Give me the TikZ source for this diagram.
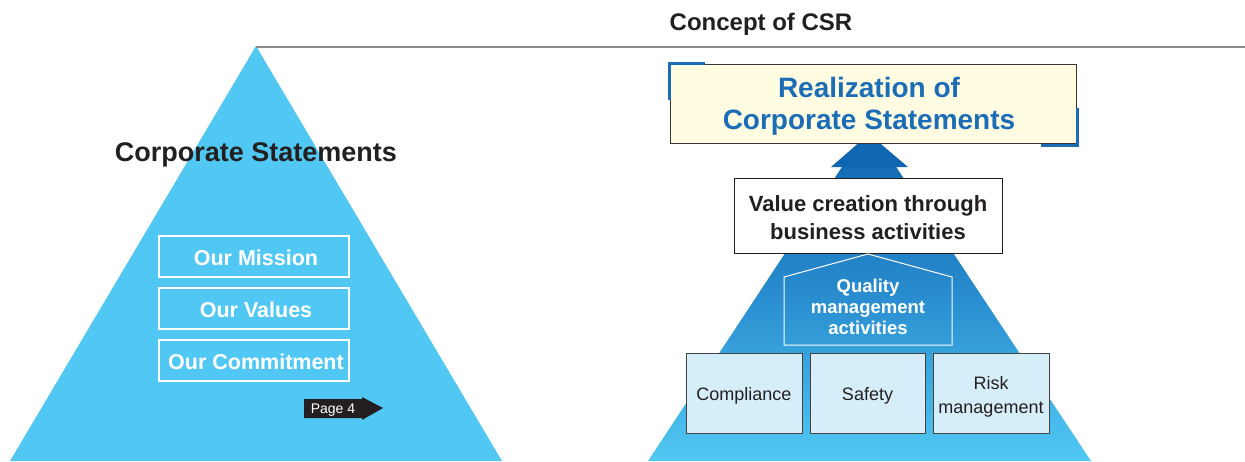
\documentclass[tikz,border=0pt]{standalone}
\usepackage{fontspec}
\setmainfont{Liberation Sans}
\usetikzlibrary{shapes.geometric}
\definecolor{cyanpyr}{HTML}{51C8F3}
\definecolor{darkpyr}{HTML}{0D62AD}
\definecolor{arrowblue}{HTML}{0F67B1}
\definecolor{titleblue}{HTML}{1A6DB6}
\definecolor{ink}{HTML}{231F20}
\definecolor{pale}{HTML}{FFFCE1}
\definecolor{lightbox}{HTML}{D6EDFA}
\definecolor{rule}{HTML}{8A8A8A}
\tikzset{
  whitebox/.style={draw=white, line width=1.3pt, minimum width=190pt, minimum height=41pt, inner sep=0pt,
     text=white, font=\fontsize{21.5}{24}\selectfont\bfseries},
  lbox/.style={draw=ink!85, line width=1pt, fill=lightbox, minimum height=80pt, inner sep=0pt,
     text=ink, align=center, font=\fontsize{18}{24}\selectfont},
  lboxtext/.style={text=ink, align=center, font=\fontsize{18}{24}\selectfont},
  bracket/.style={draw=titleblue, line width=3pt}
}
\begin{document}
\begin{tikzpicture}[x=1pt,y=-1pt]
\useasboundingbox (0,0) rectangle (1245,461);
% left pyramid
\fill[cyanpyr] (256,46) -- (10,461) -- (502,461) -- cycle;
% top rule
\coordinate (ruleL) at (256,47);
\coordinate (ruleR) at (1245,47);
\draw[rule, line width=1.5pt] (ruleL) -- (ruleR);
% titles
\node[text=ink, font=\fontsize{24}{28}\selectfont\bfseries] (csr) at (761,24) {Concept of CSR};
\node[text=ink, font=\fontsize{27}{30}\selectfont\bfseries] (corp) at (256,155) {Corporate Statements};
% left boxes
\node[whitebox] (mission) at (254,256.5) {};
\node[whitebox] (values) at (254,308.5) {};
\node[whitebox] (commit) at (254,360.5) {};
\node[text=white, font=\fontsize{21.5}{24}\selectfont\bfseries] (missiont) at (256,258) {Our Mission};
\node[text=white, font=\fontsize{21.5}{24}\selectfont\bfseries] (valuest) at (256,310) {Our Values};
\node[text=white, font=\fontsize{21.5}{24}\selectfont\bfseries] (committ) at (256,362) {Our Commitment};
% page arrow
\fill[ink] (304,399) -- (362,399) -- (362,397) -- (383,408) -- (362,420) -- (362,418) -- (304,418) -- cycle;
\node[text=white, font=\fontsize{14}{16}\selectfont] (page) at (333,410) {Page 4};
% right pyramid with gradient
\shade[top color=darkpyr, bottom color=cyanpyr, middle color={rgb,255:red,40;green,140;blue,206}]
  (869,126) -- (648,461) -- (1091,461) -- cycle;
% arrowhead
\fill[arrowblue] (869,134) -- (908,167) -- (831,167) -- cycle;
% realization box
\node[draw=ink!90, line width=0.8pt, fill=pale, minimum width=406pt, minimum height=79pt, inner sep=0pt] (realbox) at (873,103.5) {};
\node[text=titleblue, align=center, font=\fontsize{28}{32}\selectfont\bfseries] (realtext) at (869,106) {Realization of\\Corporate Statements};
\draw[bracket] (669,100) -- (669,63) -- (705,63);
\draw[bracket] (1077,108) -- (1077,145) -- (1041,145);
% value creation box
\node[draw=ink, line width=1pt, fill=white, minimum width=268pt, minimum height=75pt, inner sep=0pt] (valbox) at (868,215.5) {};
\node[text=ink, align=center, font=\fontsize{22}{28}\selectfont\bfseries] (valtext) at (868,218) {Value creation through\\business activities};
% house
\draw[white, line width=1pt] (784,345) -- (784,277) -- (868,254) -- (952,277) -- (952,345) -- cycle;
\node[text=white, align=center, font=\fontsize{18.5}{21}\selectfont\bfseries] (quality) at (868,307) {Quality\\management\\activities};
% bottom boxes
\node[lbox, minimum width=116pt] (comp) at (744,393) {};
\node[lbox, minimum width=115pt] (safe) at (867.5,393) {};
\node[lbox, minimum width=116pt] (risk) at (991,393) {};
\node[lboxtext] (compt) at (744,396) {Compliance};
\node[lboxtext] (safet) at (867.5,396) {Safety};
\node[lboxtext] (riskt) at (991,397) {Risk\\management};
\end{tikzpicture}
\end{document}
